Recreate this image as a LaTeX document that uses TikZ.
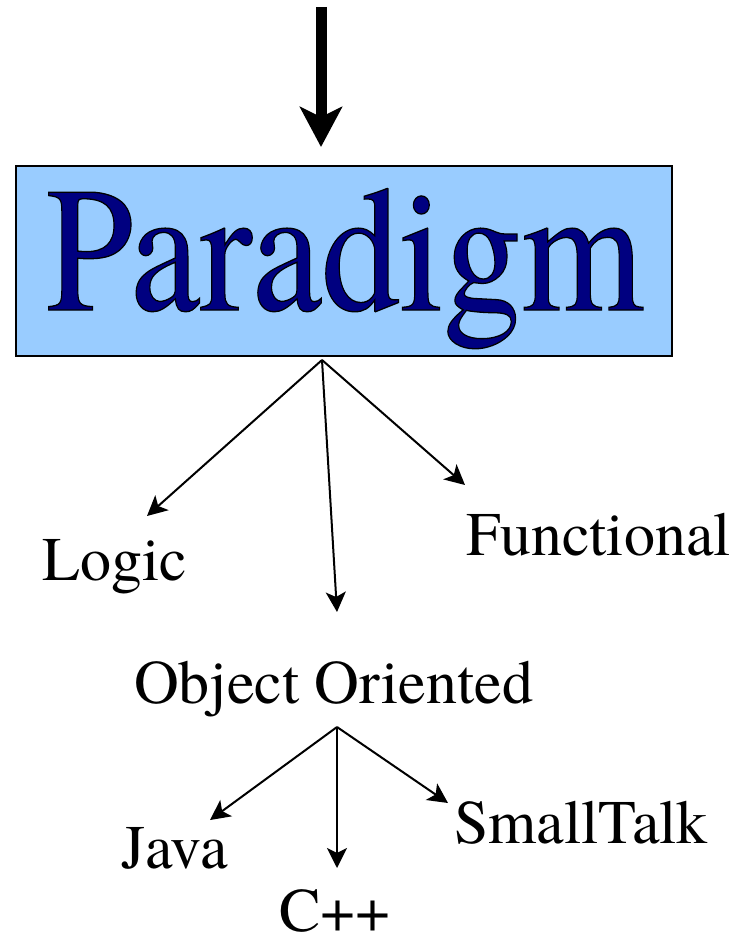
\documentclass[tikz,border=0pt]{standalone}
\usepackage{fontspec}
\setmainfont{TeX Gyre Termes}
\usetikzlibrary{arrows.meta}
\definecolor{boxblue}{HTML}{99CCFF}
\definecolor{navyc}{HTML}{000080}
\tikzset{
  lbl/.style={anchor=base west, inner sep=0pt, font=\fontsize{62}{70}\selectfont},
  arr/.style={line width=2pt, -{Stealth[length=20pt 0 0, width=20pt 0 0, inset=5pt 0 0]}},
  bigarr/.style={line width=11pt, -{Stealth[length=40pt 0 0, width=42pt 0 0, inset=10pt 0 0]}},
  pbox/.style={draw=black, line width=2pt, fill=boxblue, minimum width=656pt, minimum height=190pt, inner sep=0pt}
}
\begin{document}
\begin{tikzpicture}[x=1pt, y=-1pt]
\useasboundingbox (0,0) rectangle (742,936);
% top arrow
\coordinate (topstart) at (321,7);
\coordinate (toptip) at (321,147);
\draw[bigarr] (topstart) -- (toptip);
% paradigm box
\node[pbox] (box) at (344,261) {};
\node[anchor=base west, inner sep=0pt, xscale=0.88, text=navyc,
      font=\fontsize{178}{200}\selectfont] (paradigm) at (46,310)
  {\special{pdf:code 0 0 0 RG 2 Tr 1.3 w}Paradigm\special{pdf:code 0 Tr}};
% labels
\node[lbl] (logic) at (42,580) {Logic};
\node[lbl] (functional) at (466,555) {Functional};
\node[lbl] (oo) at (134,703) {Object Oriented};
\node[lbl] (java) at (121,868) {Java};
\node[lbl] (smalltalk) at (454,843) {SmallTalk};
\node[lbl] (cpp) at (279,931) {C++};
% upper fan
\coordinate (fan1) at (322,360);
\coordinate (tipLogic) at (147,516);
\coordinate (tipOO) at (337,612);
\coordinate (tipFunc) at (465,485);
\draw[arr] (fan1) -- (tipLogic);
\draw[arr] (fan1) -- (tipOO);
\draw[arr] (fan1) -- (tipFunc);
% lower fan
\coordinate (fan2) at (337,727);
\coordinate (tipJava) at (210,820);
\coordinate (tipCpp) at (337,868);
\coordinate (tipST) at (448,803);
\draw[arr] (fan2) -- (tipJava);
\draw[arr] (fan2) -- (tipCpp);
\draw[arr] (fan2) -- (tipST);
\end{tikzpicture}
\end{document}
